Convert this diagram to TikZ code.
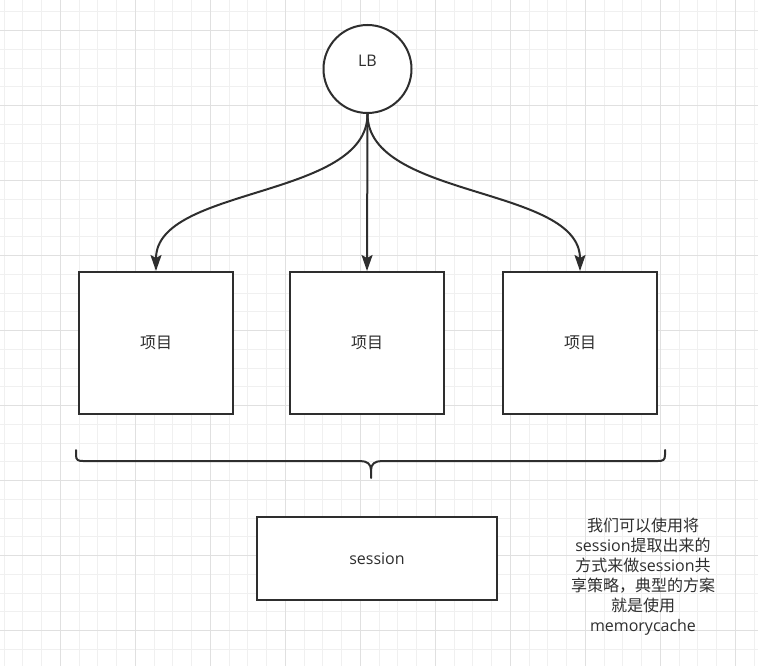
\documentclass[tikz,border=0pt]{standalone}
\usepackage{fontspec}
\setmainfont{Open Sans}
\newfontfamily\cjkfont{Noto Sans CJK SC}
\newfontfamily\latinfont{Open Sans}
\usetikzlibrary{arrows.meta}
\definecolor{ink}{HTML}{2E2E2E}
\definecolor{gridminor}{HTML}{F0F0F0}
\definecolor{gridmajor}{HTML}{E0E0E0}
\newcommand{\latinword}[1]{{\latinfont #1}}

\begin{document}
\begin{tikzpicture}[x=1pt,y=-1pt,
  minorline/.style={draw=gridminor, line width=1pt},
  majorline/.style={draw=gridmajor, line width=1pt},
  box/.style={draw=ink, line width=2pt, fill=white, text=ink, inner sep=0pt,
              font={\fontsize{16}{20}\selectfont}},
  hub/.style={draw=ink, line width=2pt, fill=white, circle, inner sep=0pt,
              minimum size=88pt},
  conn/.style={draw=ink, line width=2pt,
               -{Stealth[length=16pt,width=11pt,inset=3pt]}},
  brace/.style={draw=ink, line width=2pt, line cap=round},
  note/.style={text=ink, align=center, inner sep=0pt,
               font={\cjkfont\fontsize{16}{20}\selectfont}}
]
\useasboundingbox (0,0) rectangle (758,666);
\fill[white] (0,0) rectangle (758,666);

% background grid: fine lines every 18.75, heavier every 75
\foreach \i in {0,...,40}
  \draw[minorline] ({4.05+18.75*\i},0) -- ({4.05+18.75*\i},666);
\foreach \j in {0,...,34}
  \draw[minorline] (0,{11.95+18.75*\j}) -- (758,{11.95+18.75*\j});
\foreach \i in {0,...,9}
  \draw[majorline] ({60.3+75*\i},0) -- ({60.3+75*\i},666);
\foreach \j in {0,...,8}
  \draw[majorline] (0,{30.7+75*\j}) -- (758,{30.7+75*\j});

% load balancer
\node[hub, label={[text=ink, yshift=8pt, font={\fontsize{16}{20}\selectfont}]center:LB}]
  (lb) at (367.5,69) {};

% project instances
\node[box, minimum width=154pt, minimum height=142pt] (p1) at (156,343) {\cjkfont 项目};
\node[box, minimum width=154pt, minimum height=142pt] (p2) at (367,343) {\cjkfont 项目};
\node[box, minimum width=154pt, minimum height=142pt] (p3) at (580,343) {\cjkfont 项目};

% shared session store
\node[box, minimum width=240pt, minimum height=83pt] (sess) at (377,558.5) {session};

% connectors from the balancer
\draw[conn] (lb.south) .. controls +(0,85) and +(0,-85) .. (p1.north);
\draw[conn] (lb.south) -- (p2.north);
\draw[conn] (lb.south) .. controls +(0,85) and +(0,-85) .. (p3.north);

% curly brace grouping the three instances
\draw[brace] (76,450) -- (76,455)
  .. controls (76,460) and (78,461) .. (83,461) -- (360,461)
  .. controls (367,461) and (371,464) .. (371,470) -- (371,478);
\draw[brace] (371,470)
  .. controls (371,464) and (375,461) .. (382,461) -- (658,461)
  .. controls (663,461) and (665,460) .. (665,455) -- (665,450);

% explanatory note
\node[note] (memo) at (643,576.7)
  {我们可以使用将\\
   \latinword{session}提取出来的\\
   方式来做\latinword{session}共\\
   享策略，典型的方案\\
   就是使用\\
   \latinword{memorycache}};
\end{tikzpicture}
\end{document}
